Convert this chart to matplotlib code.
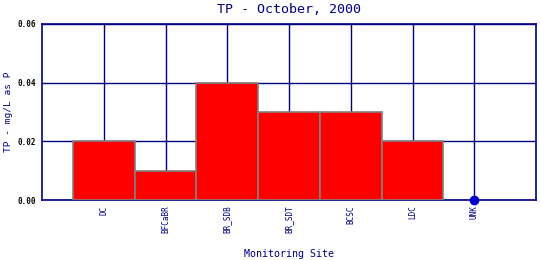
import matplotlib
matplotlib.use("Agg")
import matplotlib.pyplot as plt

sites = ["DC", "BFCaBR", "BR_SDB", "BR_SDT", "BCSC", "LDC", "UNK"]
tp = [0.02, 0.01, 0.04, 0.03, 0.03, 0.02, 0.0]
missing = ["UNK"]

NAVY = "#000080"
plt.rcParams['font.family'] = ['DejaVu Sans Mono']

fig = plt.figure(figsize=(5.4, 2.6), dpi=100)
ax = fig.add_axes([42 / 540, 60 / 260, 494 / 540, 176 / 260])

xs = list(range(1, len(sites) + 1))
for x, s, v in zip(xs, sites, tp):
    if s in missing:
        ax.plot([x], [v], "o", color="#0000cc", ms=6, clip_on=False, zorder=5)
    else:
        ax.bar(x, v, width=1.0, color="#ff0000", edgecolor="#808080",
               linewidth=1.2, zorder=3)

ax.set_xlim(0, len(sites) + 1)
ax.set_ylim(0, 0.06)
ax.set_xticks(xs)
ax.set_xticklabels(sites, rotation=90, fontsize=5.5, color=NAVY)
ax.set_yticks([0.0, 0.02, 0.04, 0.06])
ax.set_yticklabels(["0.00", "0.02", "0.04", "0.06"], fontsize=5.5,
                   color="black", fontweight="bold")
ax.tick_params(length=0, pad=4)
ax.grid(True, color=NAVY, linewidth=1.0, zorder=0)
ax.set_axisbelow(True)
for sp in ax.spines.values():
    sp.set_color(NAVY)
    sp.set_linewidth(1.2)

ax.set_title("TP - October, 2000", fontsize=9.6, color=NAVY, pad=8)
ax.set_xlabel("Monitoring Site", fontsize=7.2, color=NAVY)
ax.xaxis.set_label_coords(0.5, -0.278)
ax.set_ylabel("TP - mg/L as P", fontsize=6.8, color=NAVY)
ax.yaxis.set_label_coords(-0.058, 0.5)

fig.savefig("out.png", dpi=100)
